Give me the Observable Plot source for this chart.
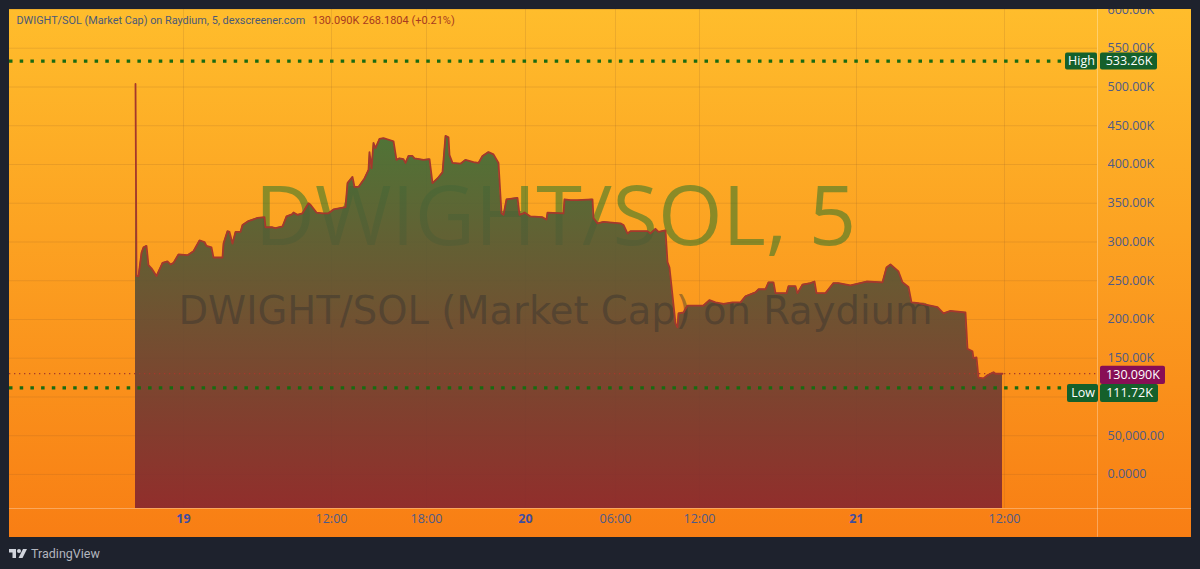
<!DOCTYPE html>
<html><head><meta charset="utf-8">
<script src="https://cdn.jsdelivr.net/npm/d3@7"></script>
<script src="https://cdn.jsdelivr.net/npm/@observablehq/plot@0.6"></script>
<style>
html,body{margin:0;padding:0;background:#1e222d;overflow:hidden}
#wrap{position:relative;width:1200px;height:569px}
#panel{position:absolute;left:9px;top:9px;width:1182px;height:528px;background:linear-gradient(#ffbd2c,#f87e14)}
#chart{position:absolute;left:0;top:0}
#topmask{position:absolute;left:0;top:0;width:1200px;height:9px;background:#1e222d}
#brand{position:absolute;left:9px;top:546px;display:flex;align-items:center;gap:4px;color:#b2b5be;font:12.5px Roboto,sans-serif}
</style></head><body>
<div id="wrap"><div id="panel"></div><div id="chart"></div><div id="topmask"></div>
<div id="brand"><svg width="18" height="11" viewBox="0 0 36 20"><path fill="#d1d4dc" d="M14 1H0v7h7v11h7z"/><circle fill="#d1d4dc" cx="20" cy="5" r="4"/><path fill="#d1d4dc" d="M28 1h8l-9 18h-8z"/></svg><span>TradingView</span></div></div>
<script>
const bars = [
0,1,3,6,8,11,13,16,21,27,
32,35,38,43,52,58,64,69,71,76,
78,87,88,92,94,97,100,105,107,113,
122,129,130,137,140,147,151,157,158,162,
167,173,175,181,187,193,198,210,212,217,
219,223,229,233,234,236,238,240,244,248,
258,261,264,268,270,273,277,279,288,294,
297,302,307,310,313,314,317,325,330,338,
343,347,353,358,363,366,368,371,382,384,
388,389,395,407,411,412,428,429,435,442,
457,458,462,468,485,488,492,495,512,515,
520,523,530,532,534,540,542,543,548,552,
562,568,574,580,588,597,605,610,620,623,
630,633,638,640,651,653,660,662,667,675,
679,681,690,698,703,715,731,747,751,755,
763,767,773,776,783,802,808,815,830,832,
837,838,841,843,848,852,858,860,867];
const caps = [
504,256,256,286,293,295,270,266,256,273,
275,271,273,284,283,288,302,300,295,293,
280,280,298,314,313,298,313,313,322,327,
331,332,319,319,318,320,333,336,338,335,
337,350,348,338,337,337,342,345,376,384,
371,371,382,393,416,395,428,421,433,434,
430,406,408,407,402,411,411,408,406,407,
376,382,390,437,435,412,402,401,406,403,
402,411,416,413,402,337,335,355,357,335,
337,338,333,332,329,338,337,355,354,354,
355,331,324,326,324,322,311,314,314,311,
317,313,315,274,267,195,190,208,209,218,
218,218,225,222,220,222,222,230,235,239,
239,248,248,234,234,243,243,234,245,247,
249,234,234,247,247,244,249,248,267,271,
262,248,242,222,221,216,208,211,209,162,
159,150,151,125,124,128,132,130,130];
const gridTicks = [600,550,500,450,400,350,300,250,200,150,100,50,0];
const yTicks = [600,550,500,450,400,350,300,250,200,150,50,0];
const yTickLabels = ["600.00K","550.00K","500.00K","450.00K","400.00K","350.00K","300.00K","250.00K","200.00K","150.00K","50,000.00","0.0000"];
const timeTicks = [48,196,291,390,480,564,721,869];
const timeLabels = ["19","12:00","18:00","20","06:00","12:00","21","12:00"];
const dayLabels = ["19","20","21"];
const high = 533.26, low = 111.72, last = 130.09;
const title = "DWIGHT/SOL (Market Cap) on Raydium, 5, dexscreener.com";
const lastText = "130.090K"; const ohlcText = "268.1804 (+0.21%)";
const wmBig = "DWIGHT/SOL, 5"; const wmSmall = "DWIGHT/SOL (Market Cap) on Raydium";
const yMin = -43.9, yMax = 600, xMin = -126, xMax = 962, xEnd = 1056, yEnd = -81;
const points = bars.map((b,i)=>({b,c:caps[i]}));
const times = timeTicks.map((t,i)=>({t,l:timeLabels[i],day:dayLabels.includes(timeLabels[i])}));
const ff = '"Open Sans",sans-serif';
const green="#15602b", magenta="#880e55", axisC="#4d5a8a";
const gradient = () => {
  const d = d3.create("svg:defs");
  const g = d.append("linearGradient").attr("id","areaG").attr("x1",0).attr("x2",0).attr("y1",0).attr("y2",1);
  g.append("stop").attr("offset","0%").attr("stop-color","#33783a");
  g.append("stop").attr("offset","100%").attr("stop-color","#86252e");
  return d.node();
};
const boxes = [
 {x1:930,x2:962,y1:522,y2:544,f:green,t:"High",cx:946,cy:533},
 {x1:965,x2:1022,y1:522,y2:544,f:green,t:"533.26K",cx:993.5,cy:533},
 {x1:932,x2:963,y1:93,y2:116,f:green,t:"Low",cx:947.5,cy:104.5},
 {x1:965,x2:1023,y1:93,y2:116,f:green,t:"111.72K",cx:994,cy:104.5},
 {x1:965,x2:1030,y1:116,y2:139.5,f:magenta,t:lastText,cx:997.5,cy:128}
];
const fig = Plot.plot({
  width:1200,height:569,marginLeft:9,marginRight:103,marginTop:9,marginBottom:61,
  style:{background:"transparent",overflow:"visible"},
  x:{type:"linear",domain:[xMin,xMax],axis:null},
  y:{type:"linear",domain:[yMin,yMax],axis:null},
  marks:[
    gradient,
    Plot.ruleY(gridTicks,{x1:xMin,x2:xMax,stroke:"#8a5a2a",strokeOpacity:.16}),
    Plot.ruleX(timeTicks,{y1:yMin,y2:yMax,stroke:"#8a5a2a",strokeOpacity:.16}),
    Plot.text([wmBig],{x:[420],y:[331],text:d=>d,fontSize:83,fontFamily:ff,fontWeight:500,fill:"#006a2c",fillOpacity:.45}),
    Plot.areaY(points,{x:"b",y1:yMin,y2:"c",fill:"url(#areaG)",fillOpacity:.9}),
    Plot.text([wmSmall],{x:[420],y:[210],text:d=>d,fontSize:38.5,fontFamily:'"DejaVu Sans",sans-serif',fill:"#303030",fillOpacity:.42}),
    Plot.line(points,{x:"b",y:"c",stroke:"#a5382c",strokeWidth:1.8}),
    Plot.ruleY([high,low],{x1:xMin,x2:930,stroke:"#1a6a10",strokeWidth:3.2,strokeDasharray:"3.5 7.2"}),
    Plot.ruleY([last],{x1:xMin,x2:xMax,stroke:"#a5382c",strokeWidth:1.3,strokeDasharray:"1.3 3.7"}),
    Plot.ruleX([xMax],{y1:yEnd,y2:yMax,stroke:"#fff",strokeOpacity:.3}),
    Plot.ruleY([yMin],{x1:xMin,x2:xEnd,stroke:"#fff",strokeOpacity:.3}),
    Plot.axisY(yTicks,{anchor:"right",tickSize:0,tickPadding:10,fontSize:12.5,fontFamily:ff,fill:axisC,tickFormat:d=>yTickLabels[yTicks.indexOf(d)],label:null}),
    Plot.rect(boxes,{x1:"x1",x2:"x2",y1:"y1",y2:"y2",fill:"f",r:2}),
    Plot.text(boxes,{x:"cx",y:"cy",text:"t",fill:"#fff",fontSize:12.5,fontFamily:ff}),
    Plot.text(times.filter(d=>!d.day),{x:"t",frameAnchor:"bottom",dy:14,text:"l",fill:axisC,fontSize:12.5,fontFamily:ff}),
    Plot.text(times.filter(d=>d.day),{x:"t",frameAnchor:"bottom",dy:14,text:"l",fill:"#3f4da0",fontWeight:"bold",fontSize:12.5,fontFamily:ff}),
    Plot.text([title],{frameAnchor:"top-left",dx:7,dy:7,text:d=>d,fill:"#4a5a78",fontSize:10.85,fontFamily:"Roboto,sans-serif"}),
    Plot.text([lastText],{frameAnchor:"top-left",dx:303,dy:7,text:d=>d,fill:"#a83a20",fontSize:11,fontFamily:"Roboto,sans-serif"}),
    Plot.text([ohlcText],{frameAnchor:"top-left",dx:353,dy:7,text:d=>d,fill:"#a83a20",fontSize:11,fontFamily:"Roboto,sans-serif"})
  ]
});
document.getElementById("chart").append(fig);
</script></body></html>
